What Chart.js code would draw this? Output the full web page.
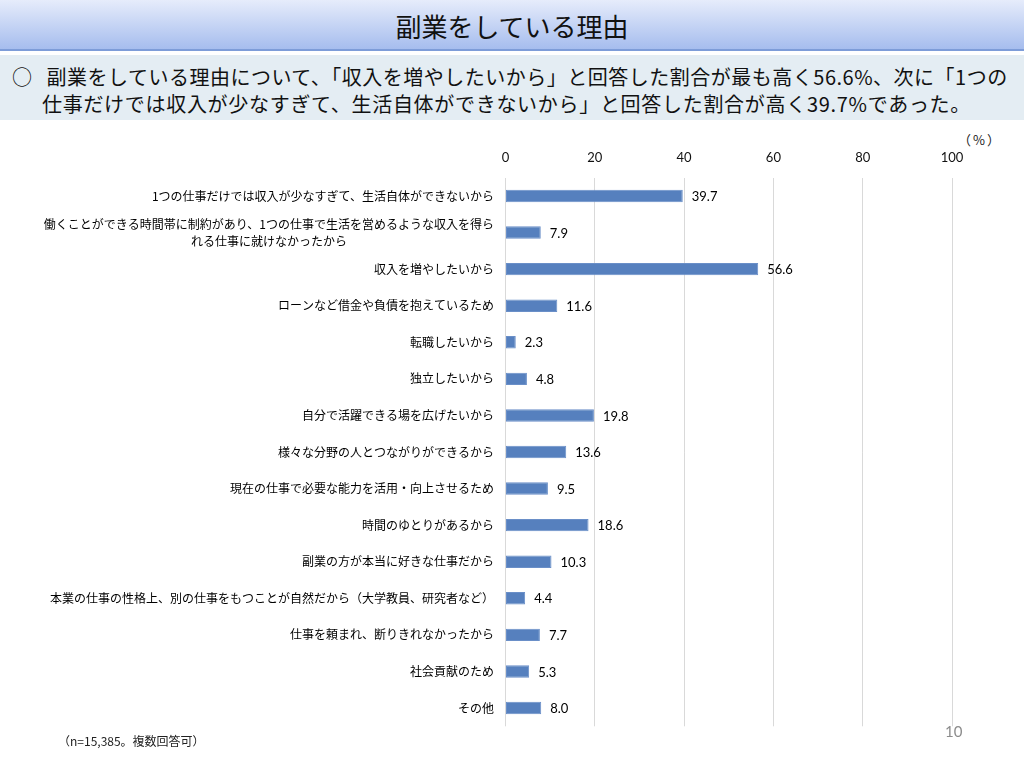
<!DOCTYPE html>
<html lang="ja">
<head>
<meta charset="utf-8">
<script src="https://cdn.jsdelivr.net/npm/chart.js@4.4.1/dist/chart.umd.min.js"></script>
<style>
  html, body { margin: 0; padding: 0; background: #ffffff; }
  body { width: 1024px; height: 767px; position: relative; overflow: hidden; font-family: "Noto Sans CJK JP", "Noto Sans", sans-serif; }
  #titlebar { position: absolute; left: 0; top: 0; width: 1024px; height: 51px; background: linear-gradient(#e6ecfb, #a6bdee); border-bottom: 2px solid #7d9cd8; box-sizing: border-box; }
  #title { position: absolute; left: 0; width: 1024px; top: 9px; text-align: center; font-size: 26px; line-height: 34px; color: #111; height: 34px; }
  #sub { position: absolute; left: 0; top: 55px; width: 1024px; height: 65px; background: #e4edf3; }
  .subline { position: absolute; font-size: 20px; line-height: 26px; color: #111; white-space: nowrap; letter-spacing: 0.7px; }
  #pct { position: absolute; left: 958px; top: 131px; font-size: 13px; line-height: 18px; color: #222; letter-spacing: 2px; }
  #note { position: absolute; left: 58px; top: 732px; font-size: 12px; line-height: 18px; color: #222; }
  #page { position: absolute; left: 945px; top: 721px; font-family: Lato, sans-serif; font-size: 15px; line-height: 20px; color: #8c8c8c; }
  #cv { position: absolute; left: 0; top: 125px; }
</style>
</head>
<body>
<div id="titlebar"><div id="title">副業をしている理由</div></div>
<div id="sub">
  <div class="subline" style="left:12px; top:9px; letter-spacing:0.5px;">○<span style="display:inline-block;width:14px"></span>副業をしている理由について、「収入を増やしたいから」と回答した割合が最も高く56.6%、次に「1つの</div>
  <div class="subline" style="left:42px; top:36px;">仕事だけでは収入が少なすぎて、生活自体ができないから」と回答した割合が高く39.7%であった。</div>
</div>
<div id="pct">（%）</div>
<canvas id="cv" width="1024" height="642"></canvas>
<div id="note">（n=15,385。複数回答可）</div>
<div id="page">10</div>
<script>
const categories = [
  "1つの仕事だけでは収入が少なすぎて、生活自体ができないから",
  ["働くことができる時間帯に制約があり、1つの仕事で生活を営めるような収入を得ら", "れる仕事に就けなかったから"],
  "収入を増やしたいから",
  "ローンなど借金や負債を抱えているため",
  "転職したいから",
  "独立したいから",
  "自分で活躍できる場を広げたいから",
  "様々な分野の人とつながりができるから",
  "現在の仕事で必要な能力を活用・向上させるため",
  "時間のゆとりがあるから",
  "副業の方が本当に好きな仕事だから",
  "本業の仕事の性格上、別の仕事をもつことが自然だから（大学教員、研究者など）",
  "仕事を頼まれ、断りきれなかったから",
  "社会貢献のため",
  "その他"
];
const values = [39.7, 7.9, 56.6, 11.6, 2.3, 4.8, 19.8, 13.6, 9.5, 18.6, 10.3, 4.4, 7.7, 5.3, 8.0];
const xTicks = [0, 20, 40, 60, 80, 100];

const JP = '"Noto Sans CJK JP", "Noto Sans", sans-serif';
const NUM = 'Lato, "Open Sans", sans-serif';

const labelPlugin = {
  id: 'catLabels',
  afterDraw(chart) {
    const ctx = chart.ctx;
    const ys = chart.scales.y;
    ctx.save();
    ctx.font = '12px ' + JP;
    ctx.fillStyle = '#000';
    ctx.textBaseline = 'middle';
    ctx.textAlign = 'center';
    const right = 494;
    const lh = 17;
    categories.forEach((lab, i) => {
      const lines = Array.isArray(lab) ? lab : [lab];
      const maxW = Math.max(...lines.map(l => ctx.measureText(l).width));
      const cx = right - maxW / 2;
      const yc = ys.getPixelForValue(i);
      const y0 = yc - (lines.length - 1) * lh / 2;
      lines.forEach((l, k) => ctx.fillText(l, cx, y0 + k * lh));
    });
    ctx.restore();
  }
};

const valuePlugin = {
  id: 'valLabels',
  afterDatasetsDraw(chart) {
    const ctx = chart.ctx;
    const meta = chart.getDatasetMeta(0);
    ctx.save();
    ctx.font = '13px ' + NUM;
    ctx.fillStyle = '#000';
    ctx.textBaseline = 'middle';
    ctx.textAlign = 'left';
    meta.data.forEach((el, i) => {
      ctx.fillText(values[i].toFixed(1), el.x + 9, el.y + 1);
    });
    ctx.restore();
  }
};

new Chart(document.getElementById('cv'), {
  type: 'bar',
  data: {
    labels: categories,
    datasets: [{
      data: values,
      backgroundColor: '#5680be',
      borderColor: '#6a8fc8',
      borderWidth: 1,
      borderSkipped: false,
      categoryPercentage: 0.34,
      barPercentage: 1.0
    }]
  },
  options: {
    indexAxis: 'y',
    responsive: false,
    animation: false,
    layout: { padding: { left: 0, right: 72, top: 0, bottom: 40.7 } },
    plugins: { legend: { display: false }, tooltip: { enabled: false } },
    scales: {
      x: {
        type: 'linear',
        position: 'top',
        min: 0,
        max: 100,
        afterBuildTicks(scale) { scale.ticks = xTicks.map(v => ({ value: v })); },
        afterFit(scale) { scale.height = 52.7; },
        ticks: { font: { family: NUM, size: 13 }, color: '#111', padding: 12 },
        grid: { color: '#d9d9d9', lineWidth: 1, drawTicks: false },
        border: { display: false }
      },
      y: {
        type: 'category',
        afterFit(scale) { scale.width = 505.5; },
        ticks: { display: false },
        grid: { display: false },
        border: { display: false }
      }
    }
  },
  plugins: [labelPlugin, valuePlugin]
});
</script>
</body>
</html>
